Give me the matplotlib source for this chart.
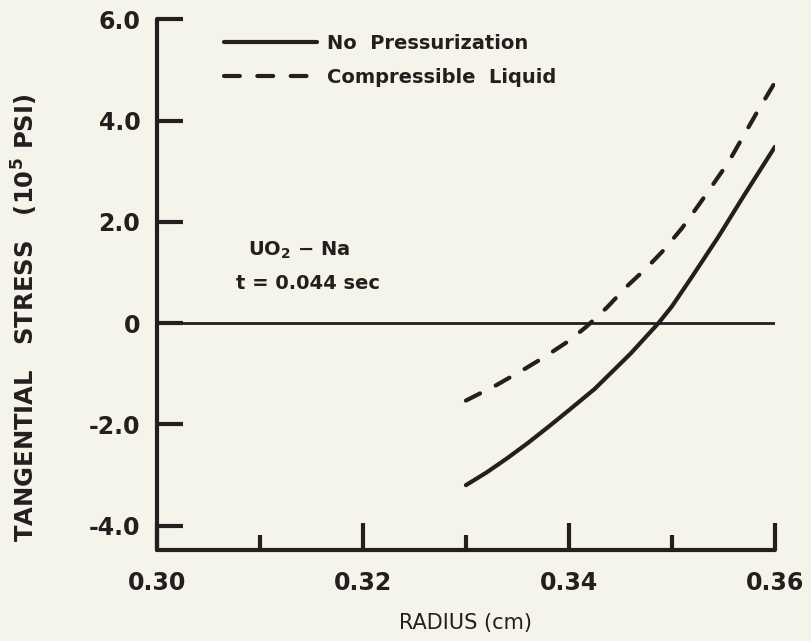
import matplotlib
matplotlib.use("Agg")
import matplotlib.pyplot as plt

# tangential stress vs radius, UO2 - Na, t = 0.044 s
radius_np = [0.330, 0.332, 0.334, 0.336, 0.338, 0.340, 0.3425, 0.344,
             0.346, 0.3487, 0.350, 0.352, 0.3545, 0.357, 0.360]
stress_np = [-3.20, -2.95, -2.67, -2.37, -2.05, -1.72, -1.30, -1.00,
             -0.60, 0.0, 0.33, 0.93, 1.70, 2.52, 3.48]

radius_cl = [0.330, 0.333, 0.3355, 0.3377, 0.340, 0.3417, 0.3437, 0.3456,
             0.3475, 0.3492, 0.351, 0.3527, 0.3555, 0.3582, 0.360]
stress_cl = [-1.53, -1.22, -0.93, -0.66, -0.35, -0.07, 0.31, 0.72,
             1.08, 1.44, 1.88, 2.36, 3.18, 4.14, 4.75]

x_ticks = [0.30, 0.32, 0.34, 0.36]
x_minor = [0.31, 0.33, 0.35]
x_labels = ['0.30', '0.32', '0.34', '0.36']
y_ticks = [-4.0, -2.0, 0, 2.0, 4.0, 6.0]
y_labels = ['-4.0', '-2.0', '0', '2.0', '4.0', '6.0']

bg = '#f4f4ea'
ink = '#231f1f'

plt.rcParams['font.family'] = 'DejaVu Sans'
plt.rcParams['font.weight'] = 'bold'

fig = plt.figure(figsize=(8.12, 6.41), dpi=100, facecolor=bg)
ax = fig.add_axes([0.1933, 0.142, 0.761, 0.828], facecolor=bg)

ax.plot(radius_np, stress_np, color=ink, lw=3.0, solid_capstyle='round',
        solid_joinstyle='round', label='No  Pressurization')
ax.plot(radius_cl, stress_cl, color=ink, lw=3.0, dashes=(3.8, 4.2),
        dash_capstyle='round', dash_joinstyle='round',
        label='Compressible  Liquid')
ax.axhline(0, color=ink, lw=2.0)

ax.set_xlim(0.30, 0.36)
ax.set_ylim(-4.48, 6.0)

for side in ['top', 'right']:
    ax.spines[side].set_visible(False)
for side in ['left', 'bottom']:
    ax.spines[side].set_linewidth(3.0)
    ax.spines[side].set_color(ink)
    ax.spines[side].set_capstyle('round')

ax.set_xticks(x_ticks)
ax.set_xticklabels(x_labels)
ax.set_xticks(x_minor, minor=True)
ax.set_yticks(y_ticks)
ax.set_yticklabels(y_labels)

ax.tick_params(axis='x', which='major', direction='in', length=19.5, width=3,
               color=ink, labelsize=17, labelcolor=ink, pad=15)
ax.tick_params(axis='x', which='minor', direction='in', length=11, width=3,
               color=ink)
ax.tick_params(axis='y', which='major', direction='in', length=18.5, width=3,
               color=ink, labelsize=17, labelcolor=ink, pad=12)

ax.set_xlabel('RADIUS (cm)', fontsize=15, color=ink, fontweight='normal')
ax.xaxis.set_label_coords(0.5, -0.119)
ax.set_ylabel(r'TANGENTIAL   STRESS   (10$^\mathbf{5}$ PSI)', fontsize=17.5,
              color=ink, fontweight='bold')
ax.yaxis.set_label_coords(-0.19, 0.437)

ax.text(0.231, 0.565, r'UO$_\mathbf{2}$ $-$ Na', transform=ax.transAxes,
        fontsize=14, color=ink, ha='center', va='center')
ax.text(0.244, 0.503, 't = 0.044 sec', transform=ax.transAxes,
        fontsize=14, color=ink, ha='center', va='center')

leg = ax.legend(loc='upper left', bbox_to_anchor=(0.08, 1.005), frameon=False,
                fontsize=14, handlelength=4.8, handletextpad=0.5,
                labelspacing=0.75)
for t in leg.get_texts():
    t.set_color(ink)

fig.savefig('out.png', dpi=100, facecolor=bg)
